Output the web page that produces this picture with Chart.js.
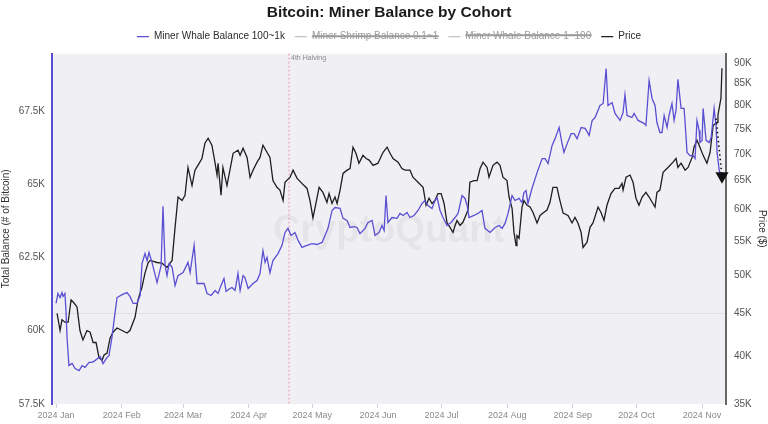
<!DOCTYPE html>
<html>
<head>
<meta charset="utf-8">
<title>Bitcoin: Miner Balance by Cohort</title>
<script src="https://cdn.jsdelivr.net/npm/chart.js@4.4.1/dist/chart.umd.min.js"></script>
<style>
  html, body { margin: 0; padding: 0; background: #fff; }
  #wrap { width: 768px; height: 424px; }
</style>
</head>
<body>
<div id="wrap"><canvas id="minerChart"></canvas></div>
<script>
// x values are days since 2024-01-01
const monthLabels = ['2024 Jan', '2024 Feb', '2024 Mar', '2024 Apr', '2024 May', '2024 Jun',
  '2024 Jul', '2024 Aug', '2024 Sep', '2024 Oct', '2024 Nov'];
const monthStartDays = [0, 31, 60, 91, 121, 152, 182, 213, 244, 274, 305];
const balanceTicks = [57500, 60000, 62500, 65000, 67500];
const priceTicks = [35000, 40000, 45000, 50000, 55000, 60000, 65000, 70000, 75000, 80000, 85000, 90000];
const halvingDay = 110;

// Miner Whale Balance 100~1k (BTC)
const whaleDays = [0, 0.9, 1.9, 2.8, 3.3, 4.2, 4.7, 5.2, 6.1, 7.6, 9.0, 10.9, 12.3, 13.7, 15.6, 17.0, 18.4, 20.8,
  22.2, 24.1, 25.0, 26.4, 27.4, 28.8, 31.2, 33.5, 34.9, 36.4, 38.2, 39.7, 40.6, 42.0, 43.0, 43.9, 45.3, 47.7,
  49.6, 50.5, 51.5, 52.4, 53.4, 54.8, 56.2, 57.6, 60.0, 62.3, 63.3, 65.2, 66.6, 69.9, 71.3, 73.2, 75.1, 76.5,
  77.9, 79.3, 80.3, 82.1, 83.1, 84.5, 85.9, 86.9, 88.3, 89.2, 90.7, 93.0, 94.9, 96.3, 97.7, 98.7, 99.6, 101.0,
  102.4, 104.8, 106.7, 108.1, 109.5, 111.0, 112.8, 114.3, 116.1, 118.5, 120.9, 123.2, 125.6, 127.0, 128.4,
  130.3, 131.7, 134.1, 135.5, 137.4, 138.8, 140.7, 142.1, 143.5, 145.9, 147.3, 149.2, 150.6, 152.5, 153.9,
  154.9, 155.8, 156.7, 158.6, 161.0, 162.4, 163.9, 165.7, 167.1, 169.0, 170.9, 172.8, 174.2, 175.6, 177.5,
  178.9, 179.9, 181.3, 182.7, 184.6, 186.5, 188.4, 189.8, 191.7, 193.1, 194.1, 195.0, 197.3, 199.2, 201.1,
  202.5, 204.9, 207.3, 209.2, 210.6, 212.0, 213.4, 215.3, 216.7, 218.6, 220.0, 220.9, 221.9, 222.8, 224.7,
  227.1, 229.5, 230.9, 232.3, 234.2, 235.6, 237.5, 238.9, 239.8, 241.3, 243.2, 244.6, 246.0, 247.9, 249.8,
  251.7, 253.1, 254.5, 256.8, 258.3, 259.7, 260.6, 262.5, 263.9, 266.3, 267.7, 268.6, 269.6, 271.9, 272.9,
  274.8, 277.6, 278.5, 280.0, 281.4, 282.8, 283.7, 285.1, 286.1, 287.1, 288.5, 289.4, 290.8, 291.8, 292.7,
  293.6, 295.1, 296.5, 297.0, 297.9, 299.3, 300.8, 301.7, 302.6, 303.6, 304.0, 305.0, 305.5, 306.9, 308.3,
  309.3, 310.7, 311.6, 312.1, 313.1, 314.0];
const whaleBalance = [60930, 61270, 61130, 61300, 61170, 61270, 60690, 59770, 58810, 58880, 58710, 58640, 58810,
  58750, 58920, 58920, 58980, 59120, 58880, 59090, 59150, 59770, 60350, 61130, 61230, 61300, 61170, 60930,
  60930, 61200, 62290, 62630, 62390, 62670, 62330, 61640, 62220, 64240, 62220, 61880, 62290, 62160, 61540,
  61880, 61980, 62330, 61980, 62910, 61610, 61610, 61270, 61200, 61370, 61270, 61540, 61780, 61340, 61440,
  61470, 61370, 61950, 61370, 61880, 61810, 61440, 61610, 61710, 61950, 62730, 62330, 62500, 61980, 62390,
  62630, 62910, 63350, 63490, 63250, 63350, 63080, 62840, 62910, 62970, 62940, 63010, 63250, 63490, 64100,
  64200, 64170, 63830, 63760, 63520, 63550, 63520, 63310, 63490, 63690, 63760, 63250, 63350, 63590, 63420,
  64610, 63690, 63860, 63830, 64000, 63930, 64030, 63860, 63930, 64100, 64340, 64440, 64270, 64170, 64440,
  64540, 64100, 63860, 63590, 63690, 63860, 64000, 64610, 64510, 64270, 63860, 63930, 64000, 64100, 63490,
  63350, 63520, 63590, 63490, 63660, 64000, 64610, 64440, 64510, 64370, 64710, 64780, 64340, 64850, 65390,
  65870, 65870, 65700, 66320, 66550, 66930, 66380, 66080, 66380, 66720, 66720, 66550, 66930, 66900, 66660,
  67170, 67270, 67680, 67750, 68940, 67680, 67780, 67410, 67170, 67440, 68050, 67340, 67270, 67410, 67170,
  67070, 67000, 68530, 67920, 67680, 67100, 66760, 66760, 67340, 66930, 67340, 67750, 67170, 67510, 68570,
  67580, 67580, 67100, 66080, 65970, 65970, 65870, 67170, 66830, 66420, 66490, 67580, 66490, 66420, 66590,
  67580, 67000, 66080, 65460, 65290];

// Price (USD)
const priceDays = [0.5, 1.9, 2.8, 4.2, 5.7, 7.1, 8.5, 9.9, 11.3, 12.7, 14.6, 16.1, 17.5, 18.9, 20.3, 21.7, 22.7,
  24.1, 25.5, 26.9, 28.8, 31.2, 33.5, 34.9, 37.3, 38.7, 40.6, 42.0, 43.4, 44.4, 47.7, 50.0, 52.4, 54.8, 56.2,
  57.6, 59.5, 60.9, 62.3, 64.2, 65.6, 67.0, 68.9, 70.3, 71.8, 73.6, 75.1, 76.0, 76.5, 77.9, 78.8, 80.7, 82.1,
  83.6, 85.9, 86.9, 88.3, 90.2, 91.6, 93.0, 94.9, 96.3, 97.7, 99.6, 101.0, 102.4, 104.3, 105.7, 107.2, 108.1,
  110.5, 111.9, 113.8, 116.1, 118.5, 119.9, 121.3, 122.7, 124.2, 126.0, 127.9, 128.9, 130.3, 131.7, 132.7,
  134.1, 135.5, 137.4, 138.8, 140.2, 141.6, 143.0, 144.9, 146.4, 147.8, 149.7, 152.0, 154.4, 156.3, 157.7,
  159.1, 161.5, 163.3, 164.8, 167.1, 168.5, 170.9, 173.3, 174.7, 176.1, 177.5, 178.9, 180.3, 181.8, 183.2,
  184.6, 186.0, 187.4, 188.4, 189.3, 190.7, 192.1, 193.1, 194.5, 195.4, 197.3, 198.8, 200.2, 201.6, 203.5,
  204.4, 206.3, 208.2, 209.6, 211.0, 212.9, 213.9, 215.3, 216.2, 217.2, 217.6, 218.6, 220.0, 220.9, 222.4,
  223.8, 225.2, 227.1, 228.5, 229.9, 231.8, 233.2, 234.6, 236.5, 237.9, 239.4, 241.7, 243.6, 245.0, 246.4,
  247.9, 248.8, 250.7, 252.1, 253.5, 255.9, 257.3, 258.7, 260.1, 262.0, 263.9, 265.8, 267.2, 267.7, 269.1,
  271.0, 272.4, 273.8, 275.2, 276.7, 278.5, 280.0, 281.8, 282.8, 283.7, 285.1, 286.6, 288.9, 291.3, 292.7,
  293.6, 295.1, 297.0, 298.4, 300.3, 301.2, 302.6, 304.0, 305.5, 307.3, 308.8, 310.2, 312.1, 312.5, 313.9,
  314.4];
const priceUsd = [45000, 42900, 44200, 43900, 43900, 46700, 46300, 45800, 42900, 41800, 42900, 42700, 41500,
  41500, 39800, 39500, 40100, 40300, 42000, 42700, 43200, 42900, 42600, 42900, 44500, 46700, 48400, 50300,
  51700, 52100, 51800, 51700, 51100, 52100, 57100, 62100, 61500, 62400, 67400, 64100, 66900, 67800, 69100,
  72100, 73100, 71700, 68200, 66000, 68200, 62400, 67400, 64100, 66900, 70100, 70700, 69700, 71100, 69300,
  65600, 66900, 68400, 69300, 71700, 70300, 69300, 65000, 63800, 63300, 61500, 64700, 65600, 66900, 65400,
  64500, 63600, 61500, 58600, 61000, 63800, 62900, 61200, 62700, 61000, 62100, 61000, 63300, 66300, 66900,
  67200, 71300, 70100, 68200, 69700, 69100, 68800, 67800, 68200, 70300, 71300, 70100, 69100, 68400, 67200,
  66900, 66900, 65600, 64700, 63800, 60700, 61900, 61000, 61500, 62700, 62700, 61000, 57800, 57100, 56300,
  57400, 58200, 57400, 57900, 58700, 59900, 64700, 65000, 65000, 67200, 68400, 67400, 65600, 67800, 68400,
  67800, 65600, 65000, 62100, 60200, 56300, 54300, 55800, 55400, 60400, 61500, 60700, 60400, 59500, 57800,
  59000, 59400, 59900, 61200, 63800, 63800, 61500, 59400, 59000, 57800, 58700, 57800, 56300, 54000, 54800,
  57100, 57800, 60400, 59500, 58200, 60700, 62700, 63600, 63600, 64500, 63300, 65600, 66000, 64700, 61900,
  60700, 62100, 62900, 62100, 61000, 60400, 62900, 63300, 66500, 67400, 68400, 69100, 67400, 68200, 66900,
  67400, 69300, 71300, 72700, 71300, 69700, 68200, 70300, 75700, 76400, 77900, 81600, 88700];

// dotted annotation arrow pointing down at the right edge
const arrowDays = [311.6, 314.4];
const arrowPrice = [77200, 65800];

const FONT = '"Liberation Sans", Arial, Helvetica, sans-serif';
const WHALE_COLOR = '#5a4fd3';

function toPoints(xs, ys) {
  return xs.map((x, i) => ({ x: x, y: ys[i] }));
}

function kLabel(v) {
  return (v / 1000) + 'K';
}

const plotBackground = {
  id: 'plotBackground',
  beforeDraw(chart) {
    const { ctx, chartArea } = chart;
    ctx.save();
    ctx.fillStyle = '#f0f0f4';
    ctx.fillRect(chartArea.left, chartArea.top, chartArea.right - chartArea.left, chartArea.bottom - chartArea.top);
    ctx.restore();
  }
};

const watermarkAndHalving = {
  id: 'watermarkAndHalving',
  beforeDatasetsDraw(chart) {
    const { ctx, chartArea, scales } = chart;
    ctx.save();
    // watermark
    ctx.fillStyle = 'rgba(0, 0, 0, 0.045)';
    ctx.font = 'bold 38px ' + FONT;
    ctx.textAlign = 'center';
    ctx.textBaseline = 'middle';
    ctx.fillText('CryptoQuant', (chartArea.left + chartArea.right) / 2, (chartArea.top + chartArea.bottom) / 2 + 3);
    // halving marker
    const x = scales.x.getPixelForValue(halvingDay);
    ctx.strokeStyle = '#e79aa6';
    ctx.lineWidth = 1;
    ctx.setLineDash([2, 2]);
    ctx.beginPath();
    ctx.moveTo(x, chartArea.top);
    ctx.lineTo(x, chartArea.bottom);
    ctx.stroke();
    ctx.fillStyle = '#8a8a8a';
    ctx.font = '7px ' + FONT;
    ctx.textAlign = 'left';
    ctx.textBaseline = 'top';
    ctx.fillText('4th Halving', x + 2, chartArea.top + 1);
    ctx.restore();
  }
};

// a little extra room under the legend
const legendGap = {
  id: 'legendGap',
  beforeInit(chart) {
    const fit = chart.legend.fit;
    chart.legend.fit = function() {
      fit.call(this);
      this.height += 2;
    };
  }
};

const ctx = document.getElementById('minerChart').getContext('2d');
new Chart(ctx, {
  type: 'line',
  data: {
    datasets: [{
      label: 'Miner Whale Balance 100~1k',
      data: toPoints(whaleDays, whaleBalance),
      borderColor: WHALE_COLOR,
      backgroundColor: WHALE_COLOR,
      borderWidth: 1.3,
      pointRadius: 0,
      yAxisID: 'y'
    }, {
      label: 'Miner Shrimp Balance 0.1~1',
      data: [],
      borderColor: '#b8b8b8',
      backgroundColor: '#b8b8b8',
      borderWidth: 1.3,
      pointRadius: 0,
      hidden: true,
      yAxisID: 'y'
    }, {
      label: 'Miner Whale Balance 1~100',
      data: [],
      borderColor: '#b8b8b8',
      backgroundColor: '#b8b8b8',
      borderWidth: 1.3,
      pointRadius: 0,
      hidden: true,
      yAxisID: 'y'
    }, {
      label: 'Price',
      data: toPoints(priceDays, priceUsd),
      borderColor: '#1e1e1e',
      backgroundColor: '#1e1e1e',
      borderWidth: 1.3,
      pointRadius: 0,
      yAxisID: 'y1'
    }, {
      label: '',
      data: toPoints(arrowDays, arrowPrice),
      borderColor: '#111',
      backgroundColor: '#111',
      borderWidth: 1.6,
      borderDash: [1.5, 3],
      pointRadius: [0, 6],
      pointStyle: 'triangle',
      rotation: 180,
      clip: false,
      order: -1,
      yAxisID: 'y1'
    }]
  },
  options: {
    responsive: true,
    maintainAspectRatio: false,
    animation: false,
    devicePixelRatio: 1,
    layout: { padding: { left: 0, right: 0, top: 0, bottom: 0 } },
    font: { family: FONT },
    plugins: {
      title: {
        display: true,
        fullSize: false,
        text: 'Bitcoin: Miner Balance by Cohort',
        color: '#1a1a1a',
        font: { family: FONT, size: 15.5, weight: 'bold' },
        padding: { top: 3, bottom: 0 }
      },
      legend: {
        display: true,
        fullSize: false,
        labels: {
          usePointStyle: true,
          pointStyle: 'line',
          pointStyleWidth: 12,
          boxWidth: 12,
          boxHeight: 10,
          padding: 10,
          color: '#2a2a2a',
          font: { family: FONT, size: 10 },
          filter: item => item.text !== '',
          generateLabels: chart => Chart.defaults.plugins.legend.labels.generateLabels(chart).map(item => {
            if (item.hidden) {
              item.fontColor = '#9a9a9a';
              item.strokeStyle = '#c2c2c2';
            }
            return item;
          })
        }
      },
      tooltip: { enabled: false }
    },
    scales: {
      x: {
        type: 'linear',
        min: -1.9,
        max: 316.3,
        afterBuildTicks: scale => { scale.ticks = monthStartDays.map(v => ({ value: v })); },
        afterFit: scale => { scale.height = 20; },
        ticks: {
          callback: value => monthLabels[monthStartDays.indexOf(value)],
          color: '#8a8a8a',
          font: { family: FONT, size: 9 },
          maxRotation: 0,
          autoSkip: false,
          padding: 2
        },
        grid: { display: true, drawOnChartArea: false, tickLength: 4, color: '#d4d4d8' },
        border: { display: false }
      },
      y: {
        type: 'linear',
        position: 'left',
        min: 57500,
        max: 69450,
        afterBuildTicks: scale => { scale.ticks = balanceTicks.map(v => ({ value: v })); },
        afterFit: scale => { scale.width = 52; },
        ticks: {
          callback: kLabel,
          color: '#555',
          font: { family: FONT, size: 10 },
          padding: 7
        },
        grid: { display: false, drawTicks: false },
        border: { display: true, color: WHALE_COLOR, width: 2 },
        title: {
          display: true,
          text: 'Total Balance (# of Bitcoin)',
          color: '#333',
          font: { family: FONT, size: 10 },
          padding: { top: 0, bottom: 2 }
        }
      },
      y1: {
        type: 'logarithmic',
        position: 'right',
        min: 35000,
        max: 92400,
        afterBuildTicks: scale => { scale.ticks = priceTicks.map(v => ({ value: v })); },
        afterFit: scale => { scale.width = 42; },
        ticks: {
          callback: kLabel,
          color: '#555',
          font: { family: FONT, size: 10 },
          padding: 8
        },
        grid: {
          drawOnChartArea: true,
          drawTicks: false,
          color: c => (c.tick && c.tick.value === 45000) ? '#e0e0e5' : 'rgba(0,0,0,0)'
        },
        border: { display: true, color: '#666', width: 2 },
        title: {
          display: true,
          text: 'Price ($)',
          color: '#333',
          font: { family: FONT, size: 10 },
          padding: { top: 0, bottom: 2 }
        }
      }
    }
  },
  plugins: [plotBackground, watermarkAndHalving, legendGap]
});
</script>
</body>
</html>
